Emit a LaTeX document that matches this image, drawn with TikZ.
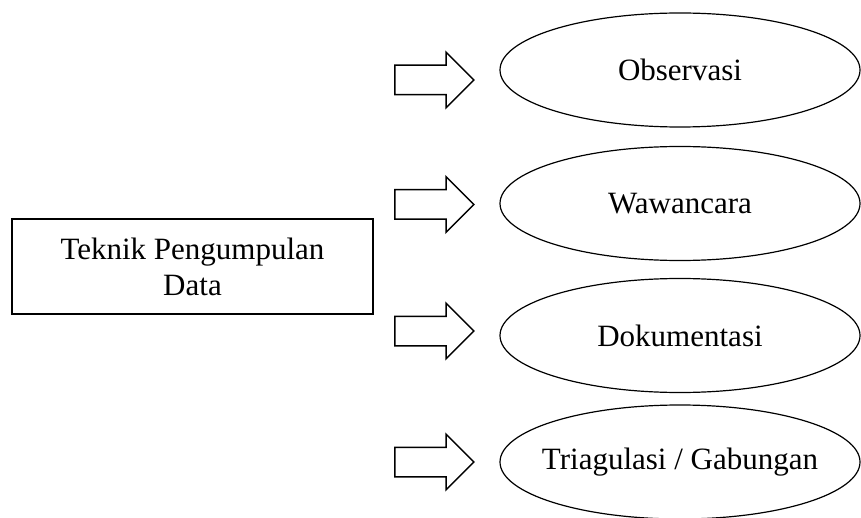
\documentclass[tikz,border=0pt]{standalone}
\usepackage{fontspec}
\setmainfont{Liberation Serif}
\usetikzlibrary{shapes.geometric,shapes.arrows}

\begin{document}
\begin{tikzpicture}[x=0.5pt,y=-0.5pt,
    every node/.style={font=\fontsize{15.5}{18}\selectfont},
    kotak/.style={draw, line width=0.7pt, minimum width=180.5pt, minimum height=47.5pt, align=center},
    oval/.style={draw, ellipse, line width=0.6pt, minimum width=180pt, minimum height=57pt, inner sep=0pt},
    panah/.style={draw, single arrow, line width=0.75pt, minimum height=39.5pt,
      single arrow head extend=6.5pt, single arrow head indent=0pt, inner xsep=0pt, inner ysep=7pt}]
    \useasboundingbox (0,0) rectangle (861,518);
    \node[kotak] (teknik) at (192.5,266.5) {Teknik Pengumpulan\\Data};
    % ellipses with their block arrows
    \foreach \nama/\teks/\yo/\yp in {obs/Observasi/70/80, waw/Wawancara/203.5/204.5,
      dok/Dokumentasi/335.5/331, tri/{Triagulasi / Gabungan}/462/462}
    {
      \node[oval] (\nama) at (680,\yo) {\makebox[0pt]{\teks}};
      \node[panah] (p\nama) at (427,\yp) {};
    }
\end{tikzpicture}
\end{document}
